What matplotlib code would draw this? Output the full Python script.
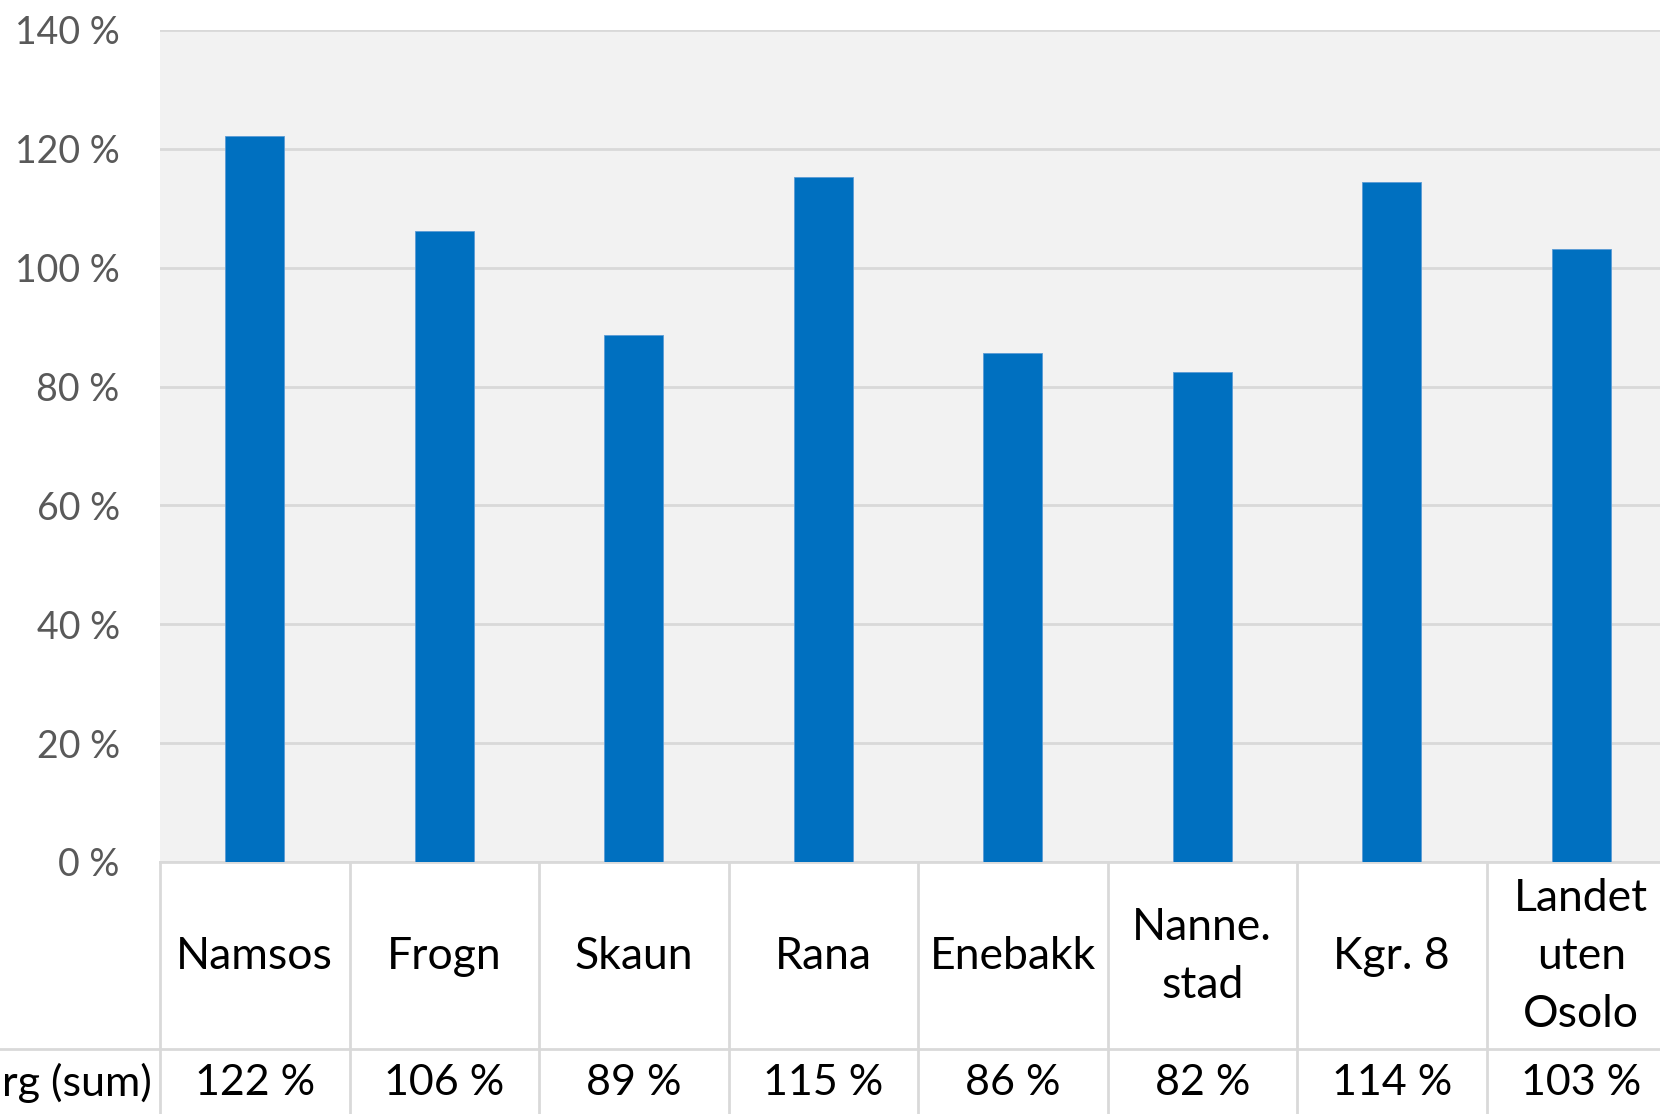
import matplotlib
matplotlib.use("Agg")
import matplotlib.pyplot as plt
from matplotlib.ticker import FuncFormatter

plt.rcParams["font.family"] = ["Lato", "DejaVu Sans"]

# data
kommuner = ["Namsos", "Frogn", "Skaun", "Rana", "Enebakk", "Nanne.\nstad", "Kgr. 8", "Landet\nuten\nOsolo"]
andel = [122.2, 106.1, 88.6, 115.3, 85.6, 82.4, 114.4, 103.1]
rad_tittel = "rg (sum)"
y_ticks = [0, 20, 40, 60, 80, 100, 120, 140]

BLUE = "#0070c0"
GRID = "#d9d9d9"

W, H = 1660, 1114
fig = plt.figure(figsize=(W / 100, H / 100), dpi=100)

left = 160 / W
col_w = 189.5 / W
ax_w = col_w * len(kommuner)
top_px, base_px, split_px = 30, 862, 1049

ax = fig.add_axes([left, (H - base_px) / H, ax_w, (base_px - top_px) / H])
ax.set_facecolor("#f2f2f2")
x = list(range(len(kommuner)))
ax.bar(x, andel, width=0.31, color=BLUE, edgecolor="#5b9bd5", linewidth=0.6, zorder=3)
ax.set_xlim(-0.5, len(kommuner) - 0.5)
ax.set_ylim(0, 140)
ax.set_yticks(y_ticks)
ax.yaxis.set_major_formatter(FuncFormatter(lambda v, p: f"{v:.0f} %"))
ax.tick_params(axis="y", length=0, pad=29, labelsize=27, labelcolor="#595959")
ax.set_xticks([])
ax.grid(axis="y", color=GRID, linewidth=2, zorder=0)
for s in ["top", "right", "left"]:
    ax.spines[s].set_visible(False)
ax.spines["bottom"].set_color(GRID)
ax.spines["bottom"].set_linewidth(2)

# data table under the chart
tab = fig.add_axes([left, 0, ax_w, (H - base_px) / H])
tab.set_xlim(-0.5, len(kommuner) - 0.5)
tab.set_ylim(H, base_px)
tab.axis("off")
for i in range(len(kommuner) + 1):
    tab.plot([i - 0.5, i - 0.5], [base_px, H], color=GRID, linewidth=2, clip_on=False)
tab.plot([-0.5 - left / col_w, len(kommuner)], [split_px, split_px], color=GRID, linewidth=2, clip_on=False)

for i, (k, v) in enumerate(zip(kommuner, andel)):
    tab.text(i, (base_px + split_px) / 2 + 1, k, ha="center", va="center", fontsize=32,
             color="black", linespacing=1.52)
    tab.text(i, 1083, f"{round(v)} %", ha="center", va="center", fontsize=31, color="black")

tab.text(-0.5 - 8 / 189.5, 1083, rad_tittel, ha="right", va="center", fontsize=31,
         color="black", clip_on=False)

fig.savefig("out.png", dpi=100)
